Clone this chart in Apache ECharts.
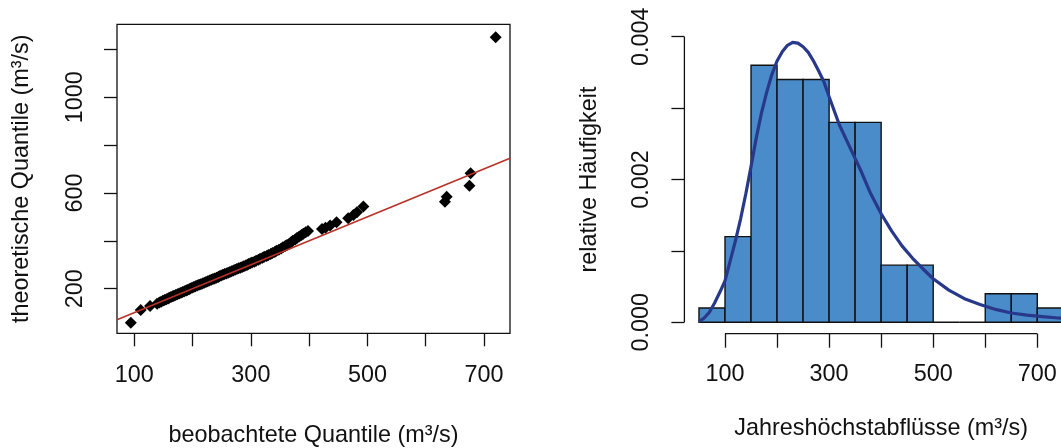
<!DOCTYPE html>
<html><head><meta charset="utf-8">
<script src="https://cdn.jsdelivr.net/npm/echarts@6/dist/echarts.min.js"></script>
<style>html,body{margin:0;padding:0;background:#fff}#c{width:1061px;height:448px}</style>
</head><body><div id="c"></div>
<script>
// ---- Left panel: Q-Q plot ----
const qqObserved = [94,
 111,127,139,143,146,149,
 152,155,158,160,163,166,168,171,174,177,180,183,186,189,191,194,196,199,
 202,205,208,211,214,217,220,223,226,229,232,235,238,241,244,246,249,
 252,255,258,261,264,267,270,273,276,279,282,285,288,291,294,296,299,
 302,306,309,313,316,320,323,327,330,334,337,341,344,348,
 352,355,359,362,366,369,372,376,379,383,387,390,394,398,
 422,428,436,447,
 467,476,482,493,
 633,636,675,677,720];
const qqTheoretical = [58,
 111,128,137,142,146,150,
 153,156,159,162,165,168,171,174,177,180,183,186,189,192,195,198,201,204,
 207,210,213,216,219,222,225,228,231,234,237,240,243,246,249,252,255,
 258,261,264,267,270,273,276,279,282,285,288,291,294,297,300,303,306,
 309,313,317,321,325,329,333,337,341,345,349,353,358,363,
 368,373,378,383,388,394,400,406,412,418,424,430,436,441,
 449,455,464,478,
 494,508,519,543,
 563,584,630,682,1250];
const refLineX = [70.3, 744.6];           // reference line y = x
const qqXTicks = [100,200,300,400,500,600,700];
const qqXLabels = [100,300,500,700];
const qqYTicks = [200,400,600,800,1000,1200];
const qqYLabels = [200,600,1000];

// ---- Right panel: histogram + density ----
const binEdges = [50,100,150,200,250,300,350,400,450,500,550,600,650,700,750];
const binDensity = [0.0002,0.0012,0.0036,0.0034,0.0034,0.0028,0.0028,0.0008,0.0008,0,0,0.0004,0.0004,0.0002];
const curveX = [50,60,70,80,90,100,110,120,130,140,150,160,170,180,190,200,210,220,230,240,250,260,270,280,290,300,320,340,360,380,400,420,440,460,480,500,530,560,590,620,650,680,710,740,770,800];
const curveY = [0.00001,0.00006,0.00014,0.00027,0.00042,0.00058,0.00086,0.00114,0.00145,0.00180,0.00218,0.00258,0.00293,0.00322,0.00347,0.00366,0.00379,0.00388,0.00392,0.00391,0.00386,0.00378,0.00366,0.00352,0.00337,0.00316,0.00276,0.00245,0.00214,0.00180,0.00152,0.00128,0.00107,0.00090,0.00075,0.00061,0.00045,0.00033,0.00025,0.00018,0.00013,0.00010,0.00008,0.00006,0.00005,0.00004];
const histXTicks = [100,200,300,400,500,600,700];
const histXLabels = [100,300,500,700];
const histYTicks = [0,0.001,0.002,0.003,0.004];
const histYLabels = [0,0.002,0.004];

const FONT = '"Liberation Sans", Arial, sans-serif';
const FS = 23.4;
const INK = '#111';

const qqXMin = 70.3, qqXMax = 744.6, qqYMin = 13.7, qqYMax = 1304.4;
const hXMin = 22, hXMax = 778, hYMin = -0.00016, hYMax = 0.00416;

const chart = echarts.init(document.getElementById('c'), null, {renderer: 'canvas'});
const txt = {color: INK, fontFamily: FONT, fontSize: FS};

// R-style axis lines of the histogram: from first to last tick, at the plot-region edge
const axisSegments = [
  [[histXTicks[0], hYMin], [histXTicks[histXTicks.length - 1], hYMin]],
  [[hXMin, histYTicks[0]], [hXMin, histYTicks[histYTicks.length - 1]]]
];

chart.setOption({
  animation: false,
  backgroundColor: '#fff',
  grid: [
    {left: 117, top: 24.3, width: 393, height: 309, show: true, borderColor: '#111', borderWidth: 1.3,
     backgroundColor: 'transparent', containLabel: false, outerBoundsMode: 'none'},
    {left: 684.4, top: 25.3, width: 393.5, height: 308.4, containLabel: false, outerBoundsMode: 'none'}
  ],
  xAxis: [
    {type: 'value', gridIndex: 0, min: qqXMin, max: qqXMax,
     axisLine: {show: false, onZero: false}, splitLine: {show: false},
     axisTick: {show: true, customValues: qqXTicks, length: 13, lineStyle: {color: INK, width: 1.3}},
     axisLabel: Object.assign({customValues: qqXLabels, margin: 31, formatter: v => String(v)}, txt),
     name: 'beobachtete Quantile (m³/s)', nameLocation: 'middle', nameGap: 91,
     nameTextStyle: txt},
    {type: 'value', gridIndex: 1, min: hXMin, max: hXMax,
     axisLine: {show: false, onZero: false}, splitLine: {show: false},
     axisTick: {show: true, customValues: histXTicks, length: 14, lineStyle: {color: INK, width: 1.3}},
     axisLabel: Object.assign({customValues: histXLabels, margin: 29, formatter: v => String(v)}, txt),
     name: 'Jahreshöchstabflüsse (m³/s)', nameLocation: 'middle', nameGap: 83,
     nameTextStyle: txt}
  ],
  yAxis: [
    {type: 'value', gridIndex: 0, min: qqYMin, max: qqYMax,
     axisLine: {show: false, onZero: false}, splitLine: {show: false},
     axisTick: {show: true, customValues: qqYTicks, length: 13, lineStyle: {color: INK, width: 1.3}},
     axisLabel: Object.assign({customValues: qqYLabels, margin: 30, rotate: 90, formatter: v => String(v)}, txt),
     name: 'theoretische Quantile (m³/s)', nameLocation: 'middle', nameGap: 84,
     nameTextStyle: txt},
    {type: 'value', gridIndex: 1, min: hYMin, max: hYMax,
     axisLine: {show: false, onZero: false}, splitLine: {show: false},
     axisTick: {show: true, customValues: histYTicks, length: 13, lineStyle: {color: INK, width: 1.3}},
     axisLabel: Object.assign({customValues: histYLabels, margin: 31, rotate: 90,
       formatter: v => v.toFixed(3)}, txt),
     name: 'relative Häufigkeit', nameLocation: 'middle', nameGap: 83,
     nameTextStyle: txt}
  ],
  series: [
    {type: 'line', xAxisIndex: 0, yAxisIndex: 0, silent: true, symbol: 'none',
     data: refLineX.map(v => [v, v]),
     lineStyle: {color: '#b83229', width: 1.6}, z: 3},
    {type: 'scatter', xAxisIndex: 0, yAxisIndex: 0, symbol: 'diamond', symbolSize: 12,
     data: qqObserved.map((v, i) => [v, qqTheoretical[i]]),
     itemStyle: {color: '#000', opacity: 1}, z: 2},
    {type: 'custom', xAxisIndex: 1, yAxisIndex: 1, silent: true, clip: false,
     data: binDensity.map((d, i) => [binEdges[i], binEdges[i + 1], d]),
     encode: {x: [0, 1], y: 2},
     renderItem: function (params, api) {
       const p0 = api.coord([api.value(0), api.value(2)]);
       const p1 = api.coord([api.value(1), 0]);
       return {type: 'rect',
         shape: {x: p0[0], y: p0[1], width: p1[0] - p0[0], height: p1[1] - p0[1]},
         style: {fill: '#4a8cca', stroke: '#111', lineWidth: 1.4}};
     }, z: 2},
    {type: 'line', xAxisIndex: 1, yAxisIndex: 1, silent: true, symbol: 'none', clip: false,
     data: curveX.map((v, i) => [v, curveY[i]]),
     lineStyle: {color: '#28388a', width: 3.2}, z: 4},
    {type: 'custom', xAxisIndex: 1, yAxisIndex: 1, silent: true, clip: false,
     data: axisSegments.map(s => [s[0][0], s[0][1], s[1][0], s[1][1]]),
     encode: {x: [0, 2], y: [1, 3]},
     renderItem: function (params, api) {
       const a = api.coord([api.value(0), api.value(1)]);
       const b = api.coord([api.value(2), api.value(3)]);
       return {type: 'line', shape: {x1: a[0], y1: a[1], x2: b[0], y2: b[1]},
         style: {stroke: INK, lineWidth: 1.3}};
     }, z: 5}
  ]
});
</script></body></html>
